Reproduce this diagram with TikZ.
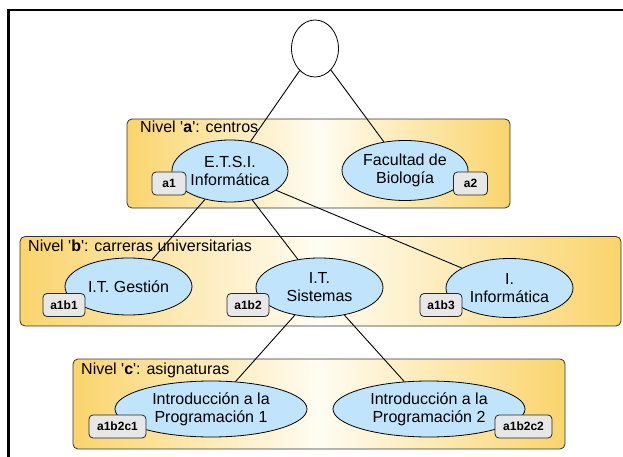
\documentclass[tikz,border=0pt]{standalone}
\usepackage{fontspec}
\setmainfont{Liberation Sans}[Ligatures=TeXOff]
\usetikzlibrary{shapes.geometric}
\definecolor{oro}{RGB}{250,212,108}
\definecolor{crema}{RGB}{255,252,242}
\definecolor{celeste}{RGB}{192,228,252}
\definecolor{gris}{RGB}{231,231,231}
\tikzset{
  nivel/.style={draw=black!80, line width=0.8pt, rounded corners=5pt,
    left color=oro, right color=oro, middle color=crema},
  titulo/.style={anchor=base west, inner sep=0pt, font=\fontsize{16}{18}\selectfont},
  centro/.style={ellipse, draw, line width=0.8pt, fill=celeste, align=center,
    inner sep=0pt, font=\fontsize{16}{18}\selectfont},
  clave/.style={draw=black!85, line width=0.8pt, fill=gris, rounded corners=4pt,
    inner sep=0pt, minimum height=23pt, font=\fontsize{12}{14}\selectfont\bfseries},
  conector/.style={draw=black, line width=0.9pt}
}
\begin{document}
\begin{tikzpicture}[x=1pt, y=-1pt]
      \useasboundingbox (0,0) rectangle (623,457);
      % marco
      \draw[line width=2.5pt] (8.7,470) -- (8.7,10) -- (640,10);
      % niveles
      \node[nivel, minimum width=383pt, minimum height=89pt] (nivelA) at (318.5,163.5) {};
      \node[nivel, minimum width=601pt, minimum height=89.5pt] (nivelB) at (320.5,281.25) {};
      \node[nivel, minimum width=492pt, minimum height=90pt] (nivelC) at (319,404) {};
      \node[titulo] (tituloA) at (140,133) {Nivel '\textbf{a}': centros};
      \node[titulo] (tituloB) at (28,251) {Nivel '\textbf{b}': carreras universitarias};
      \node[titulo] (tituloC) at (81,374) {Nivel '\textbf{c}': asignaturas};
      % nodos
      \node[ellipse, draw, line width=0.8pt, fill=white, minimum width=47pt, minimum height=57pt] (raiz) at (315,48.5) {};
      \node[centro, minimum width=116pt, minimum height=62pt] (etsi) at (230,171) {E.T.S.I.\\Informática};
      \node[centro, minimum width=126pt, minimum height=60pt] (biologia) at (405,170.5) {Facultad de\\Biología};
      \node[centro, minimum width=127pt, minimum height=57pt] (gestion) at (128.5,286.5) {I.T. Gestión};
      \node[centro, minimum width=127pt, minimum height=59pt] (sistemas) at (319.5,287.5) {I.T.\\Sistemas};
      \node[centro, minimum width=127pt, minimum height=59pt] (informatica) at (509.5,288) {I.\\Informática};
      \node[centro, minimum width=192pt, minimum height=56pt] (prog1) at (211,409) {Introducción a la\\Programación 1};
      \node[centro, minimum width=192pt, minimum height=56pt] (prog2) at (429,409) {Introducción a la\\Programación 2};
      % claves
      \node[clave, minimum width=34pt] (a1) at (169,183.5) {a1};
      \node[clave, minimum width=34pt] (a2) at (470.5,183.5) {a2};
      \node[clave, minimum width=42pt] (a1b1) at (64,305) {a1b1};
      \node[clave, minimum width=42pt] (a1b2) at (248,305) {a1b2};
      \node[clave, minimum width=42pt] (a1b3) at (441,305) {a1b3};
      \node[clave, minimum width=57pt] (a1b2c1) at (117.5,426.5) {a1b2c1};
      \node[clave, minimum width=57pt] (a1b2c2) at (523.5,426.5) {a1b2c2};
      \begin{scope}[conector]
        \draw (raiz) to (etsi);
        \draw (raiz) to (biologia);
        \draw (etsi) to (gestion);
        \draw (etsi) to (sistemas);
        \draw (etsi) to (informatica);
        \draw (sistemas) to (prog1);
        \draw (sistemas) to (prog2);
      \end{scope}
    \end{tikzpicture}
\end{document}
